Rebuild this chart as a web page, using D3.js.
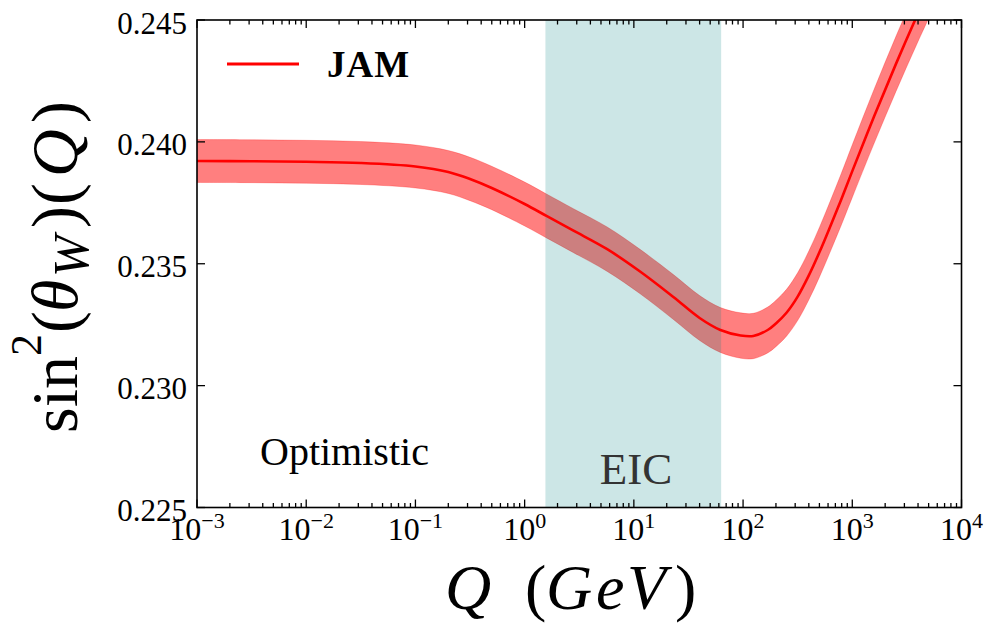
<!DOCTYPE html>
<html>
<head>
<meta charset="utf-8">
<script src="https://cdn.jsdelivr.net/npm/d3@7"></script>
<style>
  html, body { margin: 0; padding: 0; background: #fff; }
  svg { display: block; }
  text { font-family: "Liberation Serif", "Times New Roman", serif; fill: #000; }
</style>
</head>
<body>
<svg id="chart" width="985" height="632"></svg>
<script>
// Running weak mixing angle: scale Q (GeV), central value and 1-sigma half width
const qValues = [0.001, 0.00316, 0.01, 0.0316, 0.1, 0.2, 0.316, 0.5, 1, 1.6, 2.8, 5.7, 11.4, 23, 40, 62, 95, 124, 168, 200, 251, 316, 398, 501, 631, 794, 1000, 1585, 2512, 3981, 6310];
const sin2Central = [0.239215, 0.239207, 0.239183, 0.239133, 0.238990, 0.238764, 0.238477, 0.238108, 0.237451, 0.236951, 0.236356, 0.235597, 0.234680, 0.233636, 0.232774, 0.232282, 0.232056, 0.232036, 0.232282, 0.232550, 0.233000, 0.233650, 0.234500, 0.235480, 0.236550, 0.237650, 0.238800, 0.241050, 0.243200, 0.245250, 0.247200];
const sin2Err = [0.00088, 0.00088, 0.00088, 0.00088, 0.00088, 0.00088, 0.00089, 0.00089, 0.00090, 0.00090, 0.00090, 0.00091, 0.00091, 0.00092, 0.00092, 0.00092, 0.00093, 0.00093, 0.00094, 0.00095, 0.00096, 0.00098, 0.00100, 0.00102, 0.00104, 0.00106, 0.00108, 0.00111, 0.00113, 0.00115, 0.00117];

// EIC kinematic reach in Q (GeV)
const eicRange = [1.55, 63];

// Axis ticks
const xDomain = [1e-3, 1e4];
const xMajorExponents = [-3, -2, -1, 0, 1, 2, 3, 4];
const yDomain = [0.225, 0.245];
const yTicks = [0.225, 0.230, 0.235, 0.240, 0.245];

const seriesName = "JAM";
const scenarioLabel = "Optimistic";
const eicLabel = "EIC";

const margin = { left: 197, right: 985 - 961.5, top: 20, bottom: 632 - 507.5 };
const width = 985, height = 632;
const svg = d3.select("#chart");

const x = d3.scaleLog().domain(xDomain).range([margin.left, width - margin.right]);
const y = d3.scaleLinear().domain(yDomain).range([height - margin.bottom, margin.top]);

const data = qValues.map((q, i) => ({ q, v: sin2Central[i], e: sin2Err[i] }));

svg.append("defs").append("clipPath").attr("id", "plotClip")
  .append("rect")
  .attr("x", x.range()[0]).attr("y", y.range()[1])
  .attr("width", x.range()[1] - x.range()[0])
  .attr("height", y.range()[0] - y.range()[1]);

const plot = svg.append("g").attr("clip-path", "url(#plotClip)");

// uncertainty band
const area = d3.area()
  .x(d => x(d.q))
  .y0(d => y(d.v - d.e))
  .y1(d => y(d.v + d.e))
  .curve(d3.curveCatmullRom.alpha(0.5));

plot.append("path")
  .datum(data)
  .attr("d", area)
  .attr("fill", "red")
  .attr("fill-opacity", 0.5)
  .attr("stroke", "red")
  .attr("stroke-opacity", 0.25)
  .attr("stroke-width", 1);

// EIC region
plot.append("rect")
  .attr("x", x(eicRange[0]))
  .attr("y", y.range()[1])
  .attr("width", x(eicRange[1]) - x(eicRange[0]))
  .attr("height", y.range()[0] - y.range()[1])
  .attr("fill", "teal")
  .attr("fill-opacity", 0.2);

// central line
const line = d3.line()
  .x(d => x(d.q))
  .y(d => y(d.v))
  .curve(d3.curveCatmullRom.alpha(0.5));

plot.append("path")
  .datum(data)
  .attr("d", line)
  .attr("fill", "none")
  .attr("stroke", "red")
  .attr("stroke-width", 2.6);

// frame
svg.append("rect")
  .attr("x", x.range()[0]).attr("y", y.range()[1])
  .attr("width", x.range()[1] - x.range()[0])
  .attr("height", y.range()[0] - y.range()[1])
  .attr("fill", "none")
  .attr("stroke", "#000")
  .attr("stroke-width", 1.6);

// ticks pointing inward on all four sides
const majorLen = 8, minorLen = 4.5;
const xMajor = xMajorExponents.map(e => Math.pow(10, e));
const xMinor = [];
xMajorExponents.slice(0, -1).forEach(e => {
  for (let m = 2; m <= 9; m++) xMinor.push(m * Math.pow(10, e));
});
const ticks = svg.append("g").attr("stroke", "#000").attr("stroke-width", 1.3);
const yb = y.range()[0], yt = y.range()[1];
xMajor.forEach(v => {
  ticks.append("line").attr("x1", x(v)).attr("x2", x(v)).attr("y1", yb).attr("y2", yb - majorLen);
  ticks.append("line").attr("x1", x(v)).attr("x2", x(v)).attr("y1", yt).attr("y2", yt + majorLen);
});
xMinor.forEach(v => {
  ticks.append("line").attr("x1", x(v)).attr("x2", x(v)).attr("y1", yb).attr("y2", yb - minorLen);
  ticks.append("line").attr("x1", x(v)).attr("x2", x(v)).attr("y1", yt).attr("y2", yt + minorLen);
});
const xl = x.range()[0], xr = x.range()[1];
yTicks.forEach(v => {
  ticks.append("line").attr("x1", xl).attr("x2", xl + majorLen).attr("y1", y(v)).attr("y2", y(v));
  ticks.append("line").attr("x1", xr).attr("x2", xr - majorLen).attr("y1", y(v)).attr("y2", y(v));
});

// y tick labels
const fmtY = d3.format(".3f");
svg.append("g").selectAll("text").data(yTicks).join("text")
  .attr("x", xl - 10)
  .attr("y", d => y(d) + 3)
  .attr("text-anchor", "end")
  .attr("dominant-baseline", "central")
  .attr("font-size", 31)
  .text(d => fmtY(d));

// x tick labels as 10^n
const xLab = svg.append("g").selectAll("text").data(xMajorExponents).join("text")
  .attr("x", d => x(Math.pow(10, d)))
  .attr("y", 540)
  .attr("text-anchor", "middle")
  .attr("font-size", 32);
xLab.append("tspan").text("10");
xLab.append("tspan")
  .attr("dy", -12)
  .attr("font-size", 22)
  .text(d => d < 0 ? "\u2212" + Math.abs(d) : String(d));

// x axis title: Q (GeV), glyphs set on math spacing
const xTitle = svg.append("text")
  .attr("y", 609)
  .attr("font-size", 64)
  .attr("font-style", "italic");
[["Q", 445, true], ["(", 525, false], ["G", 546, true], ["e", 596, true], ["V", 627, true], [")", 675, false]]
  .forEach(([s, px, it]) => {
    xTitle.append("tspan").attr("x", px).attr("font-style", it ? "italic" : "normal").text(s);
  });

// y axis title: sin^2(theta_W)(Q), rotated; positions run upward from the bottom
const yTitle = svg.append("text")
  .attr("transform", "translate(77,433) rotate(-90)")
  .attr("font-size", 66);
yTitle.append("tspan").attr("x", 0).attr("y", 0).text("sin");
yTitle.append("tspan").attr("x", 77).attr("y", -36).attr("font-size", 44).text("2");
yTitle.append("tspan").attr("x", 100).attr("y", 0).text("(");
yTitle.append("tspan").attr("x", 121).attr("y", 0).attr("font-style", "italic").text("θ");
yTitle.append("tspan").attr("x", 156).attr("y", 11).attr("font-style", "italic").attr("font-size", 50).text("W");
yTitle.append("tspan").attr("x", 205).attr("y", 0).text(")");
yTitle.append("tspan").attr("x", 228).attr("y", 0).text("(");
yTitle.append("tspan").attr("x", 256).attr("y", 0).attr("font-style", "italic").text("Q");
yTitle.append("tspan").attr("x", 310).attr("y", 0).text(")");

// annotations
svg.append("text")
  .attr("x", 260).attr("y", 465)
  .attr("font-size", 40)
  .text(scenarioLabel);

svg.append("text")
  .attr("x", 636).attr("y", 484)
  .attr("text-anchor", "middle")
  .attr("font-size", 45)
  .style("fill", "#333")
  .text(eicLabel);

// legend
svg.append("line")
  .attr("x1", 227).attr("x2", 299)
  .attr("y1", 64).attr("y2", 64)
  .attr("stroke", "red")
  .attr("stroke-width", 2.8);
svg.append("text")
  .attr("x", 327).attr("y", 77)
  .attr("font-size", 37)
  .attr("font-weight", "bold")
  .attr("letter-spacing", 1)
  .text(seriesName);
</script>
</body>
</html>
